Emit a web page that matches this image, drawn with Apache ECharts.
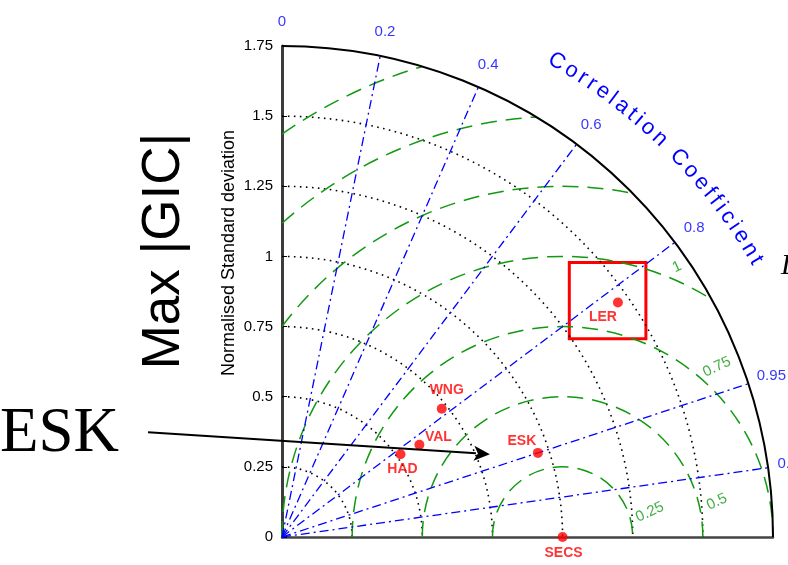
<!DOCTYPE html>
<html>
<head>
<meta charset="utf-8">
<script src="https://cdn.jsdelivr.net/npm/echarts@6/dist/echarts.min.js"></script>
<style>
  html, body { margin: 0; padding: 0; background: #ffffff; }
  #chart { width: 788px; height: 565px; }
</style>
</head>
<body>
<div id="chart"></div>
<script>
// Station statistics, normalised by the SECS reference field
const stations = ['SECS', 'ESK', 'HAD', 'VAL', 'WNG', 'LER'];
const normStd = [1.00, 0.96, 0.515, 0.59, 0.73, 1.46];
const correlation = [1.00, 0.95, 0.82, 0.83, 0.78, 0.82];

// Diagram furniture
const sdTicks = [0, 0.25, 0.5, 0.75, 1, 1.25, 1.5, 1.75];
const sdArcs = [0.25, 0.5, 0.75, 1, 1.25, 1.5];
const corrRays = [0.2, 0.4, 0.6, 0.8, 0.95, 0.99];
const corrTicks = [0, 0.2, 0.4, 0.6, 0.8, 0.95, 0.99];
const corrTickLabels = ['0', '0.2', '0.4', '0.6', '0.8', '0.95', '0.99'];
const rmsArcs = [0.25, 0.5, 0.75, 1, 1.25, 1.5, 1.75];
const rmsTickLabels = ['0.25', '0.5', '0.75', '1'];

const SD_MAX = 1.75;
const REF_STD = 1.0;

const BLUE = '#0000ff';
const GREEN = '#119911';
const RED = '#ff0000';
const SANS = '"Liberation Sans", Arial, Helvetica, sans-serif';
const SERIF = '"Liberation Serif", "Times New Roman", serif';

// where each RMS contour label sits (data units) and where each station name sits (px offset)
const rmsLabelAt = [[1.311, 0.089], [1.550, 0.125], [1.550, 0.606], [1.408, 0.962]];
const nameOffset = {
  SECS: [1, 16.5], ESK: [-16, -11.5], HAD: [2, 15],
  VAL: [19, -8], WNG: [5, -19], LER: [-15, 15]
};
// highlighted station box (data units)
const boxX = [1.024, 1.297];
const boxY = [0.707, 0.978];
// pointer from the side caption to ESK (data units)
const pointerFrom = [-0.4775, 0.3735];
const pointerTo = [0.741, 0.295];

function polar(s, c) {
  return [s * c, s * Math.sqrt(Math.max(0, 1 - c * c))];
}

const chart = echarts.init(document.getElementById('chart'), null, { renderer: 'canvas' });

function pxUnit(api) {
  const o = api.coord([0, 0]);
  const p = api.coord([1, 0]);
  return { o: o, u: p[0] - o[0] };
}

const option = {
  animation: false,
  backgroundColor: '#ffffff',
  grid: { left: 282, top: 46, width: 491, height: 491, containLabel: false },
  xAxis: {
    type: 'value', min: 0, max: SD_MAX,
    axisLine: { show: true, onZero: false, lineStyle: { color: '#444444', width: 2.5 } },
    axisTick: { show: false }, axisLabel: { show: false }, splitLine: { show: false }
  },
  yAxis: {
    type: 'value', min: 0, max: SD_MAX, interval: 0.25,
    axisLine: { show: true, onZero: false, lineStyle: { color: '#3c3c3c', width: 3 } },
    axisTick: { show: true, inside: true, length: 5, lineStyle: { color: '#000', width: 1 } },
    axisLabel: {
      show: true, color: '#000', fontSize: 15, fontFamily: SANS, margin: 9,
      formatter: function (v) {
        const i = sdTicks.findIndex(t => Math.abs(t - v) < 1e-6);
        return i >= 0 ? String(sdTicks[i]) : '';
      }
    },
    splitLine: { show: false }
  },
  series: [
    // standard-deviation arcs (dotted)
    {
      type: 'custom', coordinateSystem: 'cartesian2d', silent: true, z: 2,
      data: sdArcs.map(r => [r, 0]),
      renderItem: function (params, api) {
        const g = pxUnit(api);
        return {
          type: 'arc',
          shape: { cx: g.o[0], cy: g.o[1], r: api.value(0) * g.u, startAngle: -Math.PI / 2, endAngle: 0, clockwise: true },
          style: { fill: 'none', stroke: '#000', lineWidth: 1.6, lineDash: [1.6, 4.4] }
        };
      }
    },
    // outer boundary
    {
      type: 'custom', coordinateSystem: 'cartesian2d', silent: true, z: 4,
      data: [[SD_MAX, 0]],
      renderItem: function (params, api) {
        const g = pxUnit(api);
        return {
          type: 'arc',
          shape: { cx: g.o[0], cy: g.o[1], r: api.value(0) * g.u, startAngle: -Math.PI / 2, endAngle: 0, clockwise: true },
          style: { fill: 'none', stroke: '#000', lineWidth: 2 }
        };
      }
    },
    // centred RMS difference contours around the reference
    {
      type: 'custom', coordinateSystem: 'cartesian2d', silent: true, z: 3,
      data: rmsArcs.map(r => [r, 0]),
      renderItem: function (params, api) {
        const g = pxUnit(api);
        const R = api.value(0);
        const cMin = Math.min(1, (SD_MAX * SD_MAX - REF_STD * REF_STD - R * R) / (2 * R * REF_STD));
        const cMax = Math.max(-1, -REF_STD / R);
        const phiMin = Math.acos(cMin);
        const phiMax = Math.acos(cMax);
        const c = api.coord([REF_STD, 0]);
        return {
          type: 'arc',
          shape: { cx: c[0], cy: c[1], r: R * g.u, startAngle: -phiMax, endAngle: -phiMin, clockwise: true },
          style: { fill: 'none', stroke: GREEN, lineWidth: 1.5, lineDash: [16, 9] }
        };
      }
    },
    // correlation rays
    {
      type: 'custom', coordinateSystem: 'cartesian2d', silent: true, z: 3,
      data: corrRays.map(c => [c, 0]),
      renderItem: function (params, api) {
        const o = api.coord([0, 0]);
        const e = api.coord(polar(SD_MAX, api.value(0)));
        return {
          type: 'line',
          shape: { x1: o[0], y1: o[1], x2: e[0], y2: e[1] },
          style: { stroke: BLUE, lineWidth: 1.3, lineDash: [9, 4, 2, 4] }
        };
      }
    },
    // correlation tick labels
    {
      type: 'scatter', silent: true, clip: false, symbolSize: 0, z: 5,
      data: corrTicks.map((c, i) => ({ name: corrTickLabels[i], value: polar(1.836, c) })),
      label: {
        show: true, position: 'inside', formatter: '{b}', color: BLUE,
        fontSize: 15, fontFamily: SANS
      }
    },
    // RMS contour labels
    {
      type: 'scatter', silent: true, clip: false, symbolSize: 0, z: 5,
      data: rmsTickLabels.map((t, i) => ({ name: t, value: rmsLabelAt[i] })),
      label: {
        show: true, position: 'inside', formatter: '{b}', color: GREEN,
        fontSize: 15, fontFamily: SANS, rotate: 25
      }
    },
    // stations
    {
      type: 'scatter', silent: true, z: 8,
      symbol: 'circle', symbolSize: 10,
      itemStyle: { color: RED },
      data: stations.map((n, i) => ({
        name: n,
        value: polar(normStd[i], correlation[i]),
        label: { offset: nameOffset[n] }
      })),
      label: {
        show: true, position: 'inside', formatter: '{b}', color: RED,
        fontSize: 14, fontWeight: 'bold', fontFamily: SANS
      },
      markArea: {
        silent: true,
        itemStyle: { color: 'rgba(0,0,0,0)', borderColor: RED, borderWidth: 3 },
        data: [[{ coord: [boxX[0], boxY[1]] }, { coord: [boxX[1], boxY[0]] }]]
      }
    }
  ]
};

chart.setOption(option);

// captions, curved axis title and pointer, placed through the grid's own scale
(function addDecor() {
  const o = chart.convertToPixel({ gridIndex: 0 }, [0, 0]);
  const p1 = chart.convertToPixel({ gridIndex: 0 }, [1, 0]);
  const u = p1[0] - o[0];
  const els = [];

  // curved "Correlation Coefficient"
  const title = 'Correlation Coefficient';
  const fontSize = 22;
  const ctx = document.createElement('canvas').getContext('2d');
  ctx.font = fontSize + 'px ' + SANS;
  const widths = title.split('').map(ch => ctx.measureText(ch).width);
  const R = 1.957 * u;
  const a0 = 60.0, a1 = 30.25;
  const span = R * (a0 - a1) * Math.PI / 180;
  const core = widths.reduce((s, w) => s + w, 0) - widths[0] / 2 - widths[widths.length - 1] / 2;
  const gap = (span - core) / (widths.length - 1);
  let dist = 0;
  title.split('').forEach((ch, i) => {
    if (i > 0) dist += widths[i - 1] / 2 + gap + widths[i] / 2;
    const th = (a0 - (dist / R) * 180 / Math.PI) * Math.PI / 180;
    if (ch === ' ') return;
    els.push({
      type: 'text', silent: true, z: 10,
      x: o[0] + R * Math.cos(th), y: o[1] - R * Math.sin(th),
      rotation: th - Math.PI / 2,
      style: {
        text: ch, fill: BLUE, font: fontSize + 'px ' + SANS,
        align: 'center', verticalAlign: 'middle',
        textAlign: 'center', textVerticalAlign: 'middle'
      }
    });
  });

  // side titles
  els.push({
    type: 'text', silent: true, x: 164, y: 251, rotation: Math.PI / 2,
    style: { text: 'Max |GIC|', fill: '#000', font: '53px ' + SANS,
      align: 'center', verticalAlign: 'middle', textAlign: 'center', textVerticalAlign: 'middle' }
  });
  els.push({
    type: 'text', silent: true, x: 229, y: 253, rotation: Math.PI / 2,
    style: { text: 'Normalised Standard deviation', fill: '#000', font: '18px ' + SANS,
      align: 'center', verticalAlign: 'middle', textAlign: 'center', textVerticalAlign: 'middle' }
  });
  els.push({
    type: 'text', silent: true, x: 0, y: 434,
    style: { text: 'ESK', fill: '#000', font: '63px ' + SERIF,
      align: 'left', verticalAlign: 'middle', textAlign: 'left', textVerticalAlign: 'middle' }
  });
  els.push({
    type: 'text', silent: true, x: 781, y: 266,
    style: { text: 'L', fill: '#000', font: 'italic 29px ' + SERIF,
      align: 'left', verticalAlign: 'middle', textAlign: 'left', textVerticalAlign: 'middle' }
  });

  // pointer arrow
  const a = chart.convertToPixel({ gridIndex: 0 }, pointerFrom);
  const b = chart.convertToPixel({ gridIndex: 0 }, pointerTo);
  const dx = b[0] - a[0], dy = b[1] - a[1];
  const len = Math.sqrt(dx * dx + dy * dy);
  const ux = dx / len, uy = dy / len;
  const headL = 16, headW = 7.5;
  const base = [b[0] - ux * headL, b[1] - uy * headL];
  els.push({
    type: 'line', silent: true, z: 9,
    shape: { x1: a[0], y1: a[1], x2: base[0] + ux * 2, y2: base[1] + uy * 2 },
    style: { stroke: '#000', lineWidth: 2 }
  });
  els.push({
    type: 'polygon', silent: true, z: 9,
    shape: { points: [
      [b[0], b[1]],
      [base[0] - uy * headW, base[1] + ux * headW],
      [base[0] + ux * 4, base[1] + uy * 4],
      [base[0] + uy * headW, base[1] - ux * headW]
    ] },
    style: { fill: '#000' }
  });

  chart.setOption({ graphic: { elements: els } });
})();
</script>
</body>
</html>
